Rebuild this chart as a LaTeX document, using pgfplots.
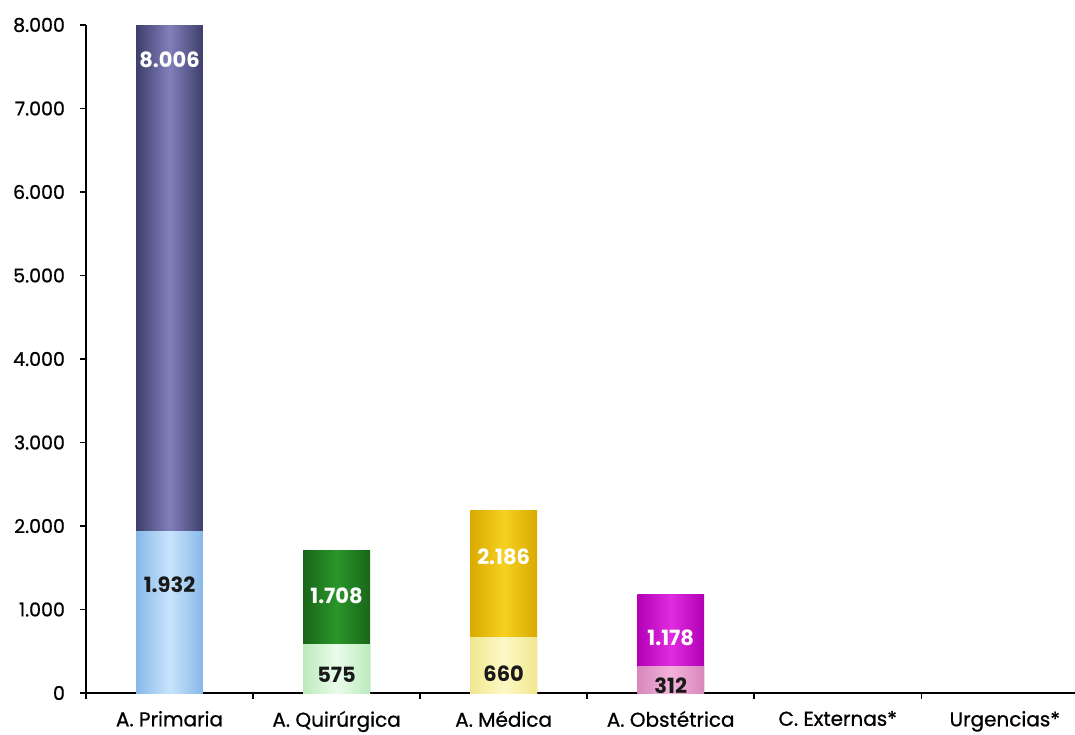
\documentclass[border=0pt]{standalone}
\usepackage{fontspec}
\setmainfont{Poppins}
\newfontfamily\tickfont{Poppins}[FakeBold=0.8]
\usepackage{pgfplots}
\pgfplotsset{compat=1.18}
\definecolor{pdE}{HTML}{3E3E6C}\definecolor{pdM}{HTML}{8280BA}
\definecolor{plE}{HTML}{88B8E8}\definecolor{plM}{HTML}{C8E4FC}
\definecolor{qdE}{HTML}{186618}\definecolor{qdM}{HTML}{2A962A}
\definecolor{qlE}{HTML}{BCEABC}\definecolor{qlM}{HTML}{EAFCEA}
\definecolor{mdE}{HTML}{DAAA00}\definecolor{mdM}{HTML}{F6D020}
\definecolor{mlE}{HTML}{F0E890}\definecolor{mlM}{HTML}{FCF8C4}
\definecolor{odE}{HTML}{B400B4}\definecolor{odM}{HTML}{E02CE0}
\definecolor{olE}{HTML}{D888BC}\definecolor{olM}{HTML}{F2B2DA}
\begin{document}
\begin{tikzpicture}
\begin{axis}[
  scale only axis,
  width=494.5pt, height=334pt,
  xmin=-0.5, xmax=5.42,
  ymin=0, ymax=8000,
  axis x line=bottom, axis y line=left,
  axis line style={-, black, line width=0.8pt},
  tick align=outside,
  major tick length=3pt,
  tick style={black, line width=0.8pt},
  ytick={0,1000,...,8000},
  xtick={-0.5,0.5,1.5,2.5,3.5,4.5},
  xticklabels={A. Primaria,A. Quirúrgica,A. Médica,A. Obstétrica,C. Externas*,Urgencias*},
  xticklabel style={xshift=41.75pt, font=\tickfont\fontsize{10}{12}\selectfont, yshift=-2.5pt},
  yticklabel style={font=\tickfont\fontsize{9.5}{11}\selectfont, xshift=-4pt},
  /pgf/number format/.cd, 1000 sep={.}, assume math mode=true,
]
\coordinate (BL) at (rel axis cs:0,0);
\coordinate (TR) at (rel axis cs:1,1);
% totals
\addplot[ybar, bar width=0.4, bar shift=0pt, draw=none, left color=pdE, right color=pdE, middle color=pdM] coordinates {(0,8006)};
\addplot[ybar, bar width=0.4, bar shift=0pt, draw=none, left color=qdE, right color=qdE, middle color=qdM] coordinates {(1,1708)};
\addplot[ybar, bar width=0.4, bar shift=0pt, draw=none, left color=mdE, right color=mdE, middle color=mdM] coordinates {(2,2186)};
\addplot[ybar, bar width=0.4, bar shift=0pt, draw=none, left color=odE, right color=odE, middle color=odM] coordinates {(3,1178)};
% sub values
\addplot[ybar, bar width=0.4, bar shift=0pt, draw=none, left color=plE, right color=plE, middle color=plM] coordinates {(0,1932)};
\addplot[ybar, bar width=0.4, bar shift=0pt, draw=none, left color=qlE, right color=qlE, middle color=qlM] coordinates {(1,575)};
\addplot[ybar, bar width=0.4, bar shift=0pt, draw=none, left color=mlE, right color=mlE, middle color=mlM] coordinates {(2,660)};
\addplot[ybar, bar width=0.4, bar shift=0pt, draw=none, left color=olE, right color=olE, middle color=olM] coordinates {(3,312)};
% labels
\addplot[draw=none, mark=none, nodes near coords, point meta=explicit symbolic,
  nodes near coords style={anchor=center, text=white, font=\bfseries\fontsize{10.5}{12}\selectfont}]
  coordinates {(0,7581) [8.006] (1,1162) [1.708] (2,1629) [2.186] (3,659) [1.178]};
\addplot[draw=none, mark=none, nodes near coords, point meta=explicit symbolic,
  nodes near coords style={anchor=center, text=black!90, font=\bfseries\fontsize{10.5}{12}\selectfont}]
  coordinates {(0,1293) [1.932] (1,216) [575] (2,228) [660] (3,84) [312]};
\end{axis}
\pgfresetboundingbox
\path[use as bounding box] ([xshift=-43pt,yshift=-20.5pt]BL) rectangle ([yshift=12.5pt]TR);
\end{tikzpicture}
\end{document}
